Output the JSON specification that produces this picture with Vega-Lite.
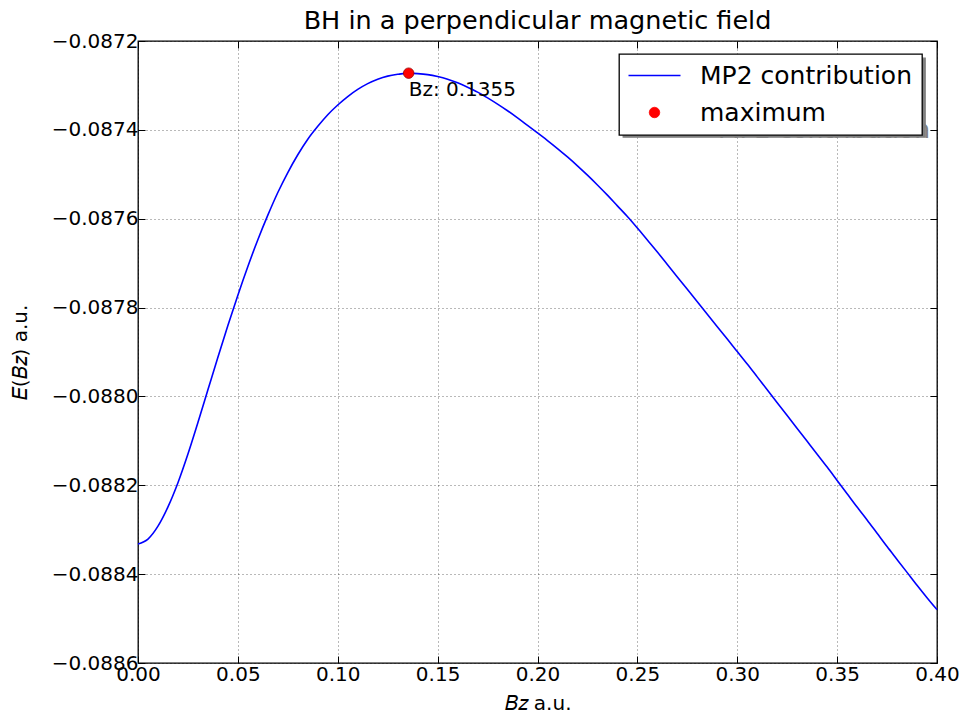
{
  "$schema": "https://vega.github.io/schema/vega-lite/v6.json",
  "width": 799,
  "height": 622,
  "autosize": {"type": "none"},
  "padding": {"left": 138, "top": 41, "right": 24, "bottom": 54},
  "background": "white",
  "config": {
    "font": "DejaVu Sans",
    "view": {"stroke": "black", "strokeWidth": 1.3},
    "axis": {
      "labelFontSize": 20,
      "labelColor": "black",
      "labelFlush": false,
      "labelOverlap": false,
      "tickColor": "black",
      "tickWidth": 1,
      "tickSize": -7,
      "domain": false,
      "gridColor": "#000000",
      "gridDash": [1, 3],
      "gridOpacity": 0.55,
      "gridWidth": 1,
      "titleFontSize": 20,
      "titleFontWeight": "normal",
      "titleColor": "black"
    }
  },
  "title": {
    "text": "BH in a perpendicular magnetic field",
    "fontSize": 25.5,
    "fontWeight": "normal",
    "color": "black",
    "anchor": "middle",
    "frame": "group",
    "offset": -3
  },
  "datasets": {
    "curve": [
      {"Bz": 0.0, "E": -0.088332, "series": "MP2 contribution"},
      {"Bz": 0.005, "E": -0.088321, "series": "MP2 contribution"},
      {"Bz": 0.01, "E": -0.088292, "series": "MP2 contribution"},
      {"Bz": 0.015, "E": -0.0882487, "series": "MP2 contribution"},
      {"Bz": 0.02, "E": -0.0881942, "series": "MP2 contribution"},
      {"Bz": 0.025, "E": -0.0881297, "series": "MP2 contribution"},
      {"Bz": 0.03, "E": -0.0880587, "series": "MP2 contribution"},
      {"Bz": 0.035, "E": -0.0879852, "series": "MP2 contribution"},
      {"Bz": 0.04, "E": -0.0879117, "series": "MP2 contribution"},
      {"Bz": 0.045, "E": -0.0878402, "series": "MP2 contribution"},
      {"Bz": 0.05, "E": -0.087772, "series": "MP2 contribution"},
      {"Bz": 0.055, "E": -0.0877075, "series": "MP2 contribution"},
      {"Bz": 0.06, "E": -0.0876473, "series": "MP2 contribution"},
      {"Bz": 0.065, "E": -0.087592, "series": "MP2 contribution"},
      {"Bz": 0.07, "E": -0.087541, "series": "MP2 contribution"},
      {"Bz": 0.075, "E": -0.087496, "series": "MP2 contribution"},
      {"Bz": 0.08, "E": -0.087456, "series": "MP2 contribution"},
      {"Bz": 0.085, "E": -0.087421, "series": "MP2 contribution"},
      {"Bz": 0.09, "E": -0.087392, "series": "MP2 contribution"},
      {"Bz": 0.095, "E": -0.087366, "series": "MP2 contribution"},
      {"Bz": 0.1, "E": -0.087344, "series": "MP2 contribution"},
      {"Bz": 0.105, "E": -0.087325, "series": "MP2 contribution"},
      {"Bz": 0.11, "E": -0.087309, "series": "MP2 contribution"},
      {"Bz": 0.115, "E": -0.087296, "series": "MP2 contribution"},
      {"Bz": 0.12, "E": -0.087286, "series": "MP2 contribution"},
      {"Bz": 0.125, "E": -0.087279, "series": "MP2 contribution"},
      {"Bz": 0.13, "E": -0.087275, "series": "MP2 contribution"},
      {"Bz": 0.1355, "E": -0.0872724, "series": "MP2 contribution"},
      {"Bz": 0.14, "E": -0.0872734, "series": "MP2 contribution"},
      {"Bz": 0.145, "E": -0.0872757, "series": "MP2 contribution"},
      {"Bz": 0.15, "E": -0.08728, "series": "MP2 contribution"},
      {"Bz": 0.155, "E": -0.087286, "series": "MP2 contribution"},
      {"Bz": 0.16, "E": -0.087294, "series": "MP2 contribution"},
      {"Bz": 0.165, "E": -0.087304, "series": "MP2 contribution"},
      {"Bz": 0.17, "E": -0.087315, "series": "MP2 contribution"},
      {"Bz": 0.175, "E": -0.087328, "series": "MP2 contribution"},
      {"Bz": 0.18, "E": -0.087342, "series": "MP2 contribution"},
      {"Bz": 0.185, "E": -0.087357, "series": "MP2 contribution"},
      {"Bz": 0.19, "E": -0.087373, "series": "MP2 contribution"},
      {"Bz": 0.195, "E": -0.08739, "series": "MP2 contribution"},
      {"Bz": 0.2, "E": -0.087407, "series": "MP2 contribution"},
      {"Bz": 0.205, "E": -0.087424, "series": "MP2 contribution"},
      {"Bz": 0.21, "E": -0.087442, "series": "MP2 contribution"},
      {"Bz": 0.215, "E": -0.087461, "series": "MP2 contribution"},
      {"Bz": 0.22, "E": -0.087481, "series": "MP2 contribution"},
      {"Bz": 0.225, "E": -0.087502, "series": "MP2 contribution"},
      {"Bz": 0.23, "E": -0.087524, "series": "MP2 contribution"},
      {"Bz": 0.235, "E": -0.087547, "series": "MP2 contribution"},
      {"Bz": 0.24, "E": -0.087571, "series": "MP2 contribution"},
      {"Bz": 0.245, "E": -0.087595, "series": "MP2 contribution"},
      {"Bz": 0.25, "E": -0.087621, "series": "MP2 contribution"},
      {"Bz": 0.255, "E": -0.087648, "series": "MP2 contribution"},
      {"Bz": 0.26, "E": -0.087675, "series": "MP2 contribution"},
      {"Bz": 0.265, "E": -0.087703, "series": "MP2 contribution"},
      {"Bz": 0.27, "E": -0.087731, "series": "MP2 contribution"},
      {"Bz": 0.275, "E": -0.087759, "series": "MP2 contribution"},
      {"Bz": 0.28, "E": -0.087787, "series": "MP2 contribution"},
      {"Bz": 0.285, "E": -0.087815, "series": "MP2 contribution"},
      {"Bz": 0.29, "E": -0.087843, "series": "MP2 contribution"},
      {"Bz": 0.295, "E": -0.087871, "series": "MP2 contribution"},
      {"Bz": 0.3, "E": -0.087899, "series": "MP2 contribution"},
      {"Bz": 0.305, "E": -0.087927, "series": "MP2 contribution"},
      {"Bz": 0.31, "E": -0.087956, "series": "MP2 contribution"},
      {"Bz": 0.315, "E": -0.087985, "series": "MP2 contribution"},
      {"Bz": 0.32, "E": -0.088014, "series": "MP2 contribution"},
      {"Bz": 0.325, "E": -0.088043, "series": "MP2 contribution"},
      {"Bz": 0.33, "E": -0.088072, "series": "MP2 contribution"},
      {"Bz": 0.335, "E": -0.088101, "series": "MP2 contribution"},
      {"Bz": 0.34, "E": -0.08813, "series": "MP2 contribution"},
      {"Bz": 0.345, "E": -0.088159, "series": "MP2 contribution"},
      {"Bz": 0.35, "E": -0.088189, "series": "MP2 contribution"},
      {"Bz": 0.355, "E": -0.088219, "series": "MP2 contribution"},
      {"Bz": 0.36, "E": -0.088249, "series": "MP2 contribution"},
      {"Bz": 0.365, "E": -0.088278, "series": "MP2 contribution"},
      {"Bz": 0.37, "E": -0.088308, "series": "MP2 contribution"},
      {"Bz": 0.375, "E": -0.088338, "series": "MP2 contribution"},
      {"Bz": 0.38, "E": -0.088367, "series": "MP2 contribution"},
      {"Bz": 0.385, "E": -0.088396, "series": "MP2 contribution"},
      {"Bz": 0.39, "E": -0.088425, "series": "MP2 contribution"},
      {"Bz": 0.395, "E": -0.088453, "series": "MP2 contribution"},
      {"Bz": 0.4, "E": -0.08848, "series": "MP2 contribution"}
    ],
    "maximum": [
      {"Bz": 0.1355, "E": -0.0872724, "series": "maximum", "label": "Bz: 0.1355"}
    ]
  },
  "layer": [
    {
      "data": {"name": "curve"},
      "mark": {"type": "line", "strokeWidth": 1.6, "interpolate": "monotone"},
      "encoding": {
        "x": {
          "field": "Bz", "type": "quantitative",
          "scale": {"domain": [0, 0.4], "nice": false, "zero": false},
          "axis": {
            "values": [0, 0.05, 0.1, 0.15, 0.2, 0.25, 0.3, 0.35, 0.4],
            "format": ".2f",
            "grid": true,
            "labelPadding": 8,
            "title": "𝐵𝑧 a.u.",
            "titlePadding": 9
          }
        },
        "y": {
          "field": "E", "type": "quantitative",
          "scale": {"domain": [-0.0886, -0.0872], "nice": false, "zero": false},
          "axis": {
            "values": [-0.0886, -0.0884, -0.0882, -0.088, -0.0878, -0.0876, -0.0874, -0.0872],
            "format": ".4f",
            "grid": true,
            "labelPadding": 7,
            "title": "𝐸(𝐵𝑧) a.u.",
            "titlePadding": 21
          }
        },
        "color": {
          "field": "series", "type": "nominal",
          "scale": {"domain": ["MP2 contribution", "maximum"], "range": ["#0000ff", "#ff0000"]},
          "legend": {
            "orient": "none",
            "legendX": 481,
            "legendY": 13,
            "zindex": 2,
            "title": null,
            "padding": 9,
            "fillColor": "white",
            "strokeColor": "black",
            "labelFontSize": 25,
            "labelColor": "black",
            "labelLimit": 0,
            "labelOffset": 33,
            "symbolType": "stroke",
            "symbolSize": 2704,
            "symbolOffset": 14,
            "symbolStrokeWidth": 1.6,
            "rowPadding": 11,
            "encode": {
              "legend": {"update": {"strokeWidth": {"value": 1.3}}},
              "symbols": {
                "update": {
                  "shape": {"signal": "datum.value === 'maximum' ? 'circle' : 'stroke'"},
                  "size": {"signal": "datum.value === 'maximum' ? 110 : 2704"},
                  "fill": {"signal": "datum.value === 'maximum' ? '#ff0000' : 'transparent'"},
                  "stroke": {"signal": "datum.value === 'maximum' ? '#990000' : '#0000ff'"},
                  "strokeWidth": {"signal": "datum.value === 'maximum' ? 0.8 : 1.6"}
                }
              }
            }
          }
        },
        "opacity": {
          "field": "series", "type": "nominal",
          "scale": {"domain": ["maximum", "MP2 contribution"], "range": [1, 1]},
          "legend": {
            "orient": "none",
            "legendX": 485,
            "legendY": 17,
            "zindex": 1,
            "title": null,
            "padding": -6,
            "fillColor": "#808080",
            "strokeColor": "#808080",
            "labelFontSize": 25,
            "labelColor": "#808080",
            "labelLimit": 0,
            "labelOffset": 33,
            "symbolType": "stroke",
            "symbolSize": 2704,
            "symbolOffset": 14,
            "symbolStrokeWidth": 1.6,
            "rowPadding": 11,
            "encode": {
              "legend": {"update": {"strokeWidth": {"value": 1.3}}},
              "symbols": {
                "update": {
                  "shape": {"signal": "datum.value === 'maximum' ? 'circle' : 'stroke'"},
                  "size": {"signal": "datum.value === 'maximum' ? 110 : 2704"},
                  "fill": {"value": "transparent"},
                  "stroke": {"value": "transparent"},
                  "opacity": {"value": 0}
                }
              }
            }
          }
        }
      }
    },
    {
      "data": {"name": "maximum"},
      "mark": {"type": "point", "filled": true, "size": 110, "stroke": "#990000", "strokeWidth": 0.8, "opacity": 1},
      "encoding": {
        "x": {
          "field": "Bz", "type": "quantitative",
          "axis": {
            "orient": "top",
            "values": [0, 0.05, 0.1, 0.15, 0.2, 0.25, 0.3, 0.35, 0.4],
            "labels": false,
            "grid": false,
            "title": null
          }
        },
        "y": {
          "field": "E", "type": "quantitative",
          "axis": {
            "orient": "right",
            "values": [-0.0886, -0.0884, -0.0882, -0.088, -0.0878, -0.0876, -0.0874, -0.0872],
            "labels": false,
            "grid": false,
            "title": null
          }
        },
        "color": {"field": "series", "type": "nominal", "legend": null}
      }
    },
    {
      "data": {"name": "maximum"},
      "mark": {"type": "text", "align": "left", "baseline": "alphabetic", "dy": 23, "fontSize": 20, "color": "black"},
      "encoding": {
        "x": {"field": "Bz", "type": "quantitative", "axis": null},
        "y": {"field": "E", "type": "quantitative", "axis": null},
        "text": {"field": "label"}
      }
    }
  ],
  "resolve": {"axis": {"x": "independent", "y": "independent"}}
}
